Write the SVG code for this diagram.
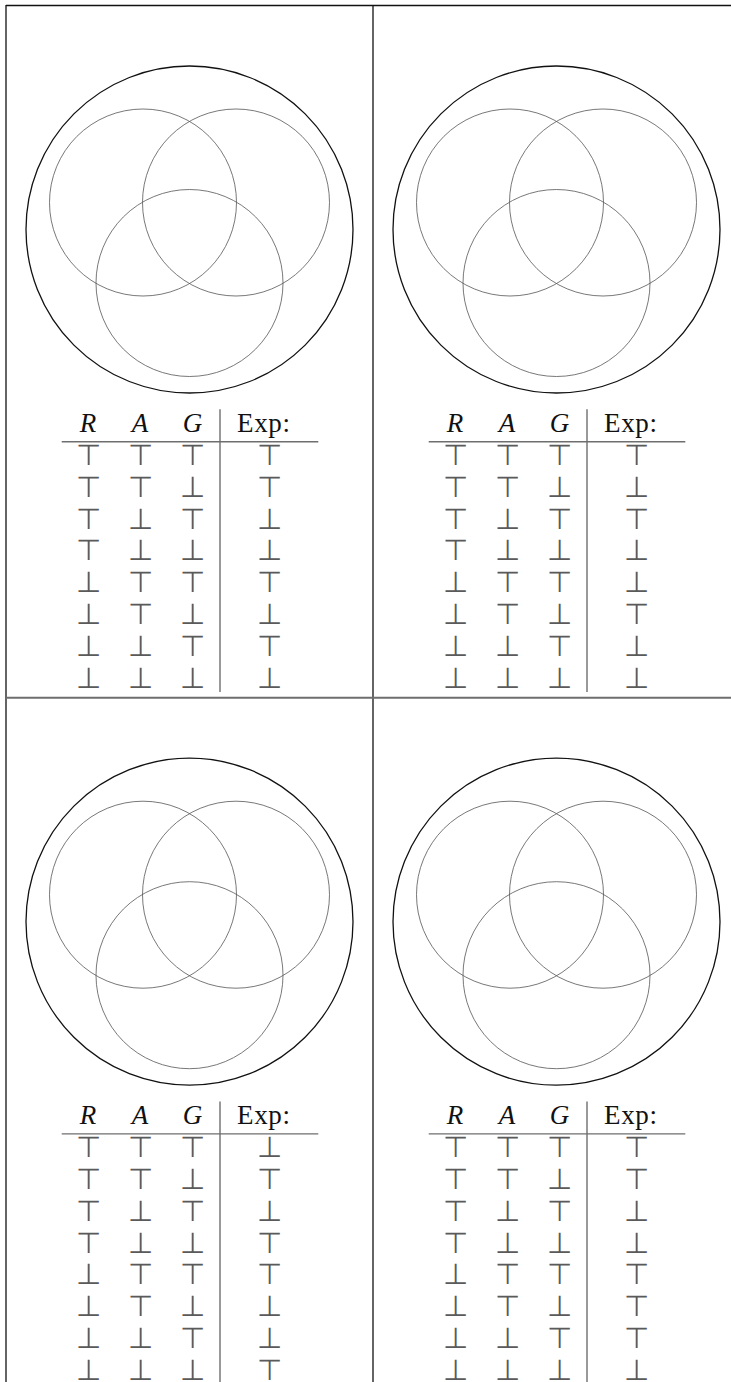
<svg xmlns="http://www.w3.org/2000/svg" xmlns:xlink="http://www.w3.org/1999/xlink" width="731" height="1382" viewBox="0 0 731 1382">
<style>
.frame{stroke:#111;stroke-width:1.3;fill:none}
.hsep{stroke:#6e6e6e;stroke-width:2;fill:none}
.outer{stroke:#111;stroke-width:1.3;fill:none}
.inner{stroke:#555;stroke-width:0.8;fill:none}
.rule{stroke:#6e6e6e;stroke-width:1.4;fill:none}
.hv{font-family:"Liberation Serif",serif;font-style:italic;font-size:27px;fill:#111;text-anchor:middle}
.hx{font-family:"Liberation Serif",serif;font-size:27px;fill:#111}
.s{font-family:"DejaVu Sans",sans-serif;font-weight:200;font-size:29px;fill:#5a5a5a;text-anchor:middle}
</style>
<defs>
<g id="venn">
<circle class="outer" cx="189.5" cy="229.5" r="163.5"/>
<circle class="inner" cx="143" cy="202.5" r="93.5"/>
<circle class="inner" cx="236" cy="202.5" r="93.5"/>
<circle class="inner" cx="189.5" cy="283" r="93.5"/>
</g>
<g id="tabframe">
<text class="hv" x="88" y="431.7">R</text>
<text class="hv" x="140" y="431.7">A</text>
<text class="hv" x="192.5" y="431.7">G</text>
<text class="hx" x="237" y="431.7" textLength="53">Exp:</text>
<line class="rule" x1="61.7" y1="441.7" x2="318.3" y2="441.7"/>
<line class="rule" x1="220" y1="409.3" x2="220" y2="692"/>
<g class="s">
<text x="88" y="465">⊤</text><text x="140" y="465">⊤</text><text x="192.5" y="465">⊤</text>
<text x="88" y="496.8">⊤</text><text x="140" y="496.8">⊤</text><text x="192.5" y="496.8">⊥</text>
<text x="88" y="528.6">⊤</text><text x="140" y="528.6">⊥</text><text x="192.5" y="528.6">⊤</text>
<text x="88" y="560.4">⊤</text><text x="140" y="560.4">⊥</text><text x="192.5" y="560.4">⊥</text>
<text x="88" y="592.2">⊥</text><text x="140" y="592.2">⊤</text><text x="192.5" y="592.2">⊤</text>
<text x="88" y="624">⊥</text><text x="140" y="624">⊤</text><text x="192.5" y="624">⊥</text>
<text x="88" y="655.8">⊥</text><text x="140" y="655.8">⊥</text><text x="192.5" y="655.8">⊤</text>
<text x="88" y="687.6">⊥</text><text x="140" y="687.6">⊥</text><text x="192.5" y="687.6">⊥</text>
</g>
</g>
</defs>
<g id="grid">
<line class="frame" x1="6" y1="5.5" x2="731" y2="5.5"/>
<line class="frame" x1="6" y1="4.9" x2="6" y2="1382"/>
<line class="frame" x1="373" y1="5.5" x2="373" y2="1382"/>
<line class="hsep" x1="6" y1="697.7" x2="731" y2="697.7"/>
</g>
<g id="cell-top-left">
<use xlink:href="#venn"/>
<use xlink:href="#tabframe"/>
<g class="s">
<text x="269.5" y="465">⊤</text><text x="269.5" y="496.8">⊤</text><text x="269.5" y="528.6">⊥</text><text x="269.5" y="560.4">⊥</text>
<text x="269.5" y="592.2">⊤</text><text x="269.5" y="624">⊥</text><text x="269.5" y="655.8">⊤</text><text x="269.5" y="687.6">⊥</text>
</g>
</g>
<g id="cell-top-right" transform="translate(367,0)">
<use xlink:href="#venn"/>
<use xlink:href="#tabframe"/>
<g class="s">
<text x="269.5" y="465">⊤</text><text x="269.5" y="496.8">⊥</text><text x="269.5" y="528.6">⊤</text><text x="269.5" y="560.4">⊥</text>
<text x="269.5" y="592.2">⊥</text><text x="269.5" y="624">⊤</text><text x="269.5" y="655.8">⊥</text><text x="269.5" y="687.6">⊥</text>
</g>
</g>
<g id="cell-bottom-left" transform="translate(0,692.2)">
<use xlink:href="#venn"/>
<use xlink:href="#tabframe"/>
<g class="s">
<text x="269.5" y="465">⊥</text><text x="269.5" y="496.8">⊤</text><text x="269.5" y="528.6">⊥</text><text x="269.5" y="560.4">⊤</text>
<text x="269.5" y="592.2">⊤</text><text x="269.5" y="624">⊥</text><text x="269.5" y="655.8">⊥</text><text x="269.5" y="687.6">⊤</text>
</g>
</g>
<g id="cell-bottom-right" transform="translate(367,692.2)">
<use xlink:href="#venn"/>
<use xlink:href="#tabframe"/>
<g class="s">
<text x="269.5" y="465">⊤</text><text x="269.5" y="496.8">⊤</text><text x="269.5" y="528.6">⊥</text><text x="269.5" y="560.4">⊥</text>
<text x="269.5" y="592.2">⊤</text><text x="269.5" y="624">⊤</text><text x="269.5" y="655.8">⊤</text><text x="269.5" y="687.6">⊥</text>
</g>
</g>
</svg>
